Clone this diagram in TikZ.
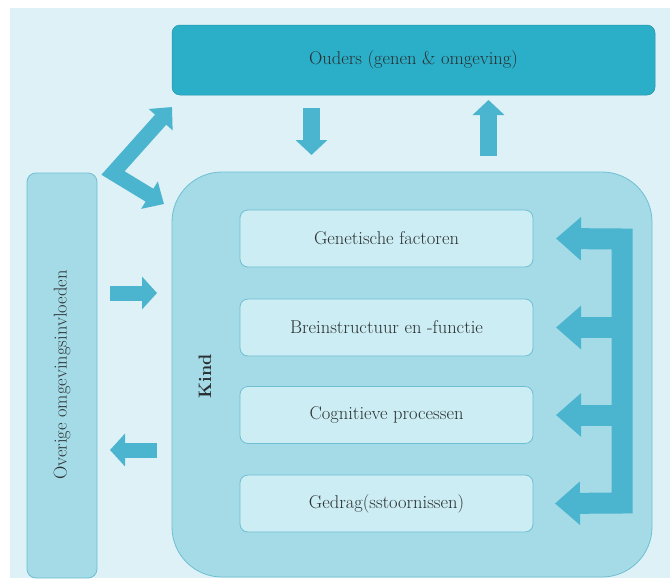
\documentclass[tikz,border=0pt]{standalone}
\usetikzlibrary{arrows.meta}
\definecolor{bgblue}{HTML}{DDF1F6}
\definecolor{darkteal}{HTML}{2BAEC8}
\definecolor{midblue}{HTML}{A5DBE7}
\definecolor{lightbox}{HTML}{CCEDF3}
\definecolor{edgeblue}{HTML}{6EBFD2}
\definecolor{arrowblue}{HTML}{4BB4CE}
\definecolor{txt}{HTML}{2A3032}
\begin{document}
\begin{tikzpicture}[x=1pt,y=-1pt,
  lbl/.style={font=\fontsize{18.5}{22}\selectfont, text=txt},
  innerbox/.style={lbl, draw=edgeblue, line width=0.8pt, fill=lightbox, rounded corners=8pt,
     minimum width=293pt, minimum height=57pt, inner sep=0pt},
  fatarrow/.style={draw=arrowblue, line width=17pt,
     -{Triangle[length=15pt,width=31pt]}},
  dblarrow/.style={draw=arrowblue, line width=15pt, line join=miter,
     {Triangle[length=17pt,width=31pt]}-{Triangle[length=17pt,width=31pt]}},
  brackarrow/.style={draw=arrowblue, line width=21pt, line join=miter,
     -{Triangle[length=25pt,width=42pt]}}]
\useasboundingbox (0,0) rectangle (670,584);
\fill[white] (0,0) rectangle (670,584);
\fill[bgblue] (10,8) rectangle (670,578);

% Ouders
\node[lbl, fill=darkteal, draw=darkteal!85!black, line width=0.5pt, rounded corners=8pt,
      minimum width=483pt, minimum height=70pt, inner sep=0pt] (ouders) at (413.5,60)
      {Ouders (genen \& omgeving)};

% Overige
\node[draw=edgeblue, line width=0.8pt, fill=midblue, rounded corners=9pt,
      minimum width=70pt, minimum height=405pt, inner sep=0pt] (overige) at (62,375.5) {};
\node[lbl, rotate=90] (overigetxt) at (62,375) {Overige omgevingsinvloeden};

% Kind
\node[draw=edgeblue, line width=0.8pt, fill=midblue, rounded corners=50pt,
      minimum width=480pt, minimum height=405pt, inner sep=0pt] (kind) at (412,374.5) {};
\node[lbl, font=\fontsize{18}{20}\selectfont\bfseries, rotate=90] (kindtxt) at (205,376) {Kind};

% inner boxes
\node[innerbox] (gen) at (386.5,238.5) {Genetische factoren};
\node[innerbox] (brein) at (386.5,327.5) {Breinstructuur en -functie};
\node[innerbox] (cog) at (386.5,415) {Cognitieve processen};
\node[innerbox] (ged) at (386.5,503.5) {Gedrag(sstoornissen)};

% coordinates for arrow ends
\coordinate (downS) at (311.5,108);
\coordinate (downE) at (311.5,155);
\coordinate (upS) at (488.5,156);
\coordinate (upE) at (488.5,100);
\coordinate (diagA) at (172,107);
\coordinate (diagB) at (113,173);
\coordinate (diagC) at (164,204);
\coordinate (rightS) at (110,293);
\coordinate (rightE) at (157,293);
\coordinate (leftS) at (157,450);
\coordinate (leftE) at (110,450);
\coordinate (barT) at (622,239);
\coordinate (barB) at (622,503);
\coordinate (bar2) at (622,327.5);
\coordinate (bar3) at (622,415);

% arrows
\draw[fatarrow] (downS) -- (downE);
\draw[fatarrow] (upS) -- (upE);
\draw[dblarrow] (diagA) -- (diagB) -- (diagC);
\draw[fatarrow, line width=15pt, -{Triangle[length=15pt,width=32pt]}] (rightS) -- (rightE);
\draw[fatarrow, line width=15pt, -{Triangle[length=15pt,width=32pt]}] (leftS) -- (leftE);

\draw[brackarrow, {Triangle[length=25pt,width=42pt]}-{Triangle[length=25pt,width=42pt]}]
   (gen.east -| 556,0) -- (barT) -- (barB) -- (ged.east -| 555,0);
\draw[brackarrow] (bar2) -- (brein.east -| 556,0);
\draw[brackarrow] (bar3) -- (cog.east -| 556,0);
\end{tikzpicture}
\end{document}
